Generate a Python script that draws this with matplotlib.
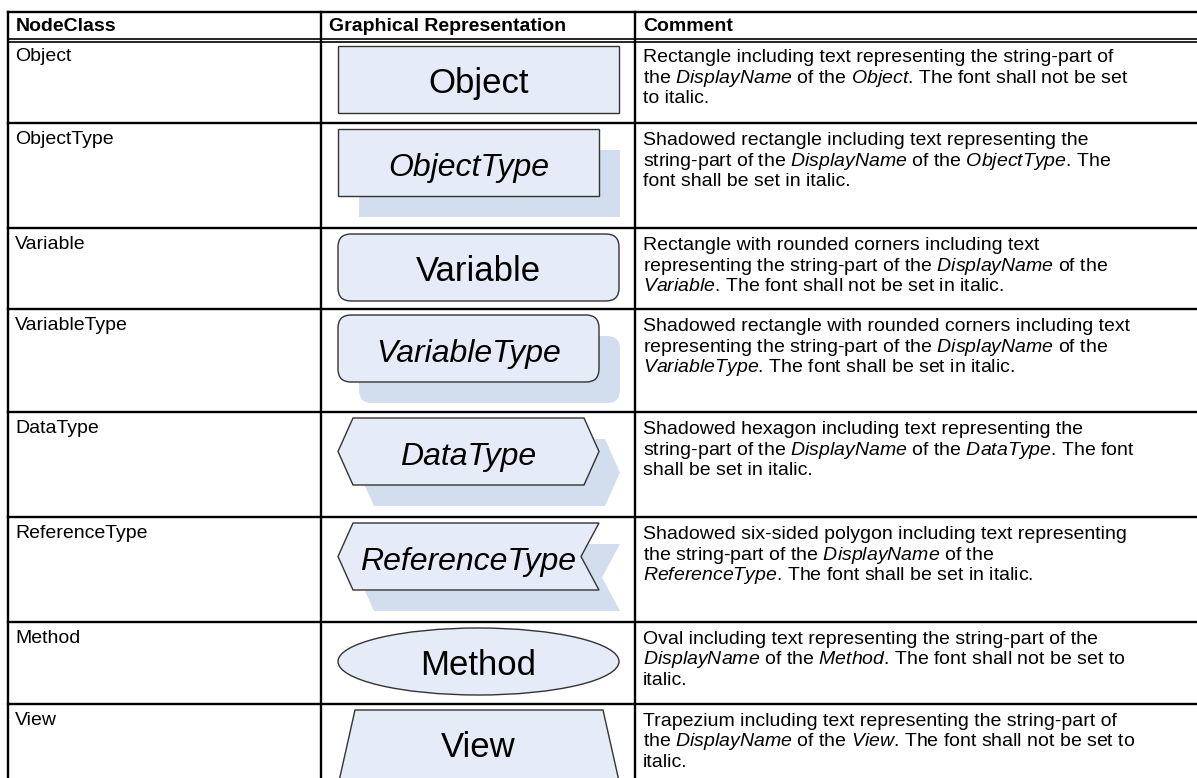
import matplotlib.pyplot as plt
from matplotlib.patches import Rectangle, FancyBboxPatch, Polygon, Ellipse

plt.rcParams['font.family'] = 'Liberation Sans'
plt.rcParams['mathtext.fontset'] = 'custom'
plt.rcParams['mathtext.rm'] = 'Liberation Sans'
plt.rcParams['mathtext.it'] = 'Liberation Sans:italic'

# table content
headers = ['NodeClass', 'Graphical Representation', 'Comment']
node_classes = ['Object', 'ObjectType', 'Variable', 'VariableType',
                'DataType', 'ReferenceType', 'Method', 'View']
shape_kinds = ['rect', 'rect', 'round', 'round',
               'hexagon', 'chevron', 'oval', 'trapezium']
shadowed = [False, True, False, True, True, True, False, False]
italic_label = [False, True, False, True, True, True, False, False]
comments = [
    ['Rectangle including text representing the string-part of',
     'the *DisplayName* of the *Object*. The font shall not be set',
     'to italic.'],
    ['Shadowed rectangle including text representing the',
     'string-part of the *DisplayName* of the *ObjectType*. The',
     'font shall be set in italic.'],
    ['Rectangle with rounded corners including text',
     'representing the string-part of the *DisplayName* of the',
     '*Variable*. The font shall not be set in italic.'],
    ['Shadowed rectangle with rounded corners including text',
     'representing the string-part of the *DisplayName* of the',
     '*VariableType*. The font shall be set in italic.'],
    ['Shadowed hexagon including text representing the',
     'string-part of the *DisplayName* of the *DataType*. The font',
     'shall be set in italic.'],
    ['Shadowed six-sided polygon including text representing',
     'the string-part of the *DisplayName* of the',
     '*ReferenceType*. The font shall be set in italic.'],
    ['Oval including text representing the string-part of the',
     '*DisplayName* of the *Method*. The font shall not be set to',
     'italic.'],
    ['Trapezium including text representing the string-part of',
     'the *DisplayName* of the *View*. The font shall not be set to',
     'italic.'],
]

# layout (pixels)
W, H = 1197, 778
col_x = [8, 321, 635]
row_y = [12, 40, 123, 228, 309, 412, 517, 622, 704, 800]
fill = '#E5ECF7'
shadow = '#D2DDEE'
edge = '#333333'
off = 21


def to_math(s):
    parts = s.split('*')
    out = ''
    for i, p in enumerate(parts):
        out += ('$\\mathit{' + p + '}$') if i % 2 else p
    return out


def shape_patch(kind, x0, y0, w, h, color, ec):
    kw = dict(facecolor=color, edgecolor=ec, lw=1.0 if ec != 'none' else 0)
    if kind == 'rect':
        return Rectangle((x0, y0), w, h, **kw)
    if kind == 'round':
        return FancyBboxPatch((x0, y0), w, h,
                              boxstyle='round,pad=0,rounding_size=13', **kw)
    if kind == 'hexagon':
        pts = [(x0, y0 + h / 2), (x0 + 15, y0), (x0 + w - 15, y0),
               (x0 + w, y0 + h / 2), (x0 + w - 15, y0 + h), (x0 + 15, y0 + h)]
        return Polygon(pts, closed=True, **kw)
    if kind == 'chevron':
        pts = [(x0, y0 + h / 2), (x0 + 15, y0), (x0 + w, y0),
               (x0 + w - 18, y0 + h / 2), (x0 + w, y0 + h), (x0 + 15, y0 + h)]
        return Polygon(pts, closed=True, **kw)
    if kind == 'oval':
        return Ellipse((x0 + w / 2, y0 + h / 2), w, h, **kw)
    if kind == 'trapezium':
        pts = [(x0 + 17, y0), (x0 + w - 16, y0), (x0 + w + 2, y0 + h),
               (x0 - 1, y0 + h)]
        return Polygon(pts, closed=True, **kw)


fig = plt.figure(figsize=(W / 100, H / 100), dpi=100)
ax = fig.add_axes([0, 0, 1, 1])
ax.set_xlim(0, W)
ax.set_ylim(H, 0)
ax.axis('off')

# grid lines
lw = 1.7
ax.plot([col_x[0], W], [row_y[0], row_y[0]], color='black', lw=lw)
ax.plot([col_x[0], W], [38.5, 38.5], color='black', lw=1.2)
ax.plot([col_x[0], W], [41.5, 41.5], color='black', lw=1.2)
for y in row_y[2:-1]:
    ax.plot([col_x[0], W], [y, y], color='black', lw=lw)
for x in col_x:
    ax.plot([x, x], [row_y[0], H + 5], color='black', lw=lw)

# header
for x, t in zip(col_x, headers):
    ax.text(x + 8, 31, t, fontsize=14, fontweight='bold', va='baseline')

# rows
for i, name in enumerate(node_classes):
    top = row_y[i + 1]
    ax.text(col_x[0] + 7, top + 21, name, fontsize=14, va='baseline')

    kind = shape_kinds[i]
    sx, sy, sh = 338, top + 6, 67
    sw = 261 if shadowed[i] else 281
    if kind == 'trapezium':
        sh = 80
    if shadowed[i]:
        ax.add_patch(shape_patch(kind, sx + off, sy + off, sw, sh, shadow, 'none'))
    ax.add_patch(shape_patch(kind, sx, sy, sw, sh, fill, edge))
    fs = 23 if italic_label[i] else 25
    ax.text(sx + sw / 2, sy + 47, name, fontsize=fs, ha='center',
            va='baseline', style='italic' if italic_label[i] else 'normal')

    for j, line in enumerate(comments[i]):
        ax.text(col_x[2] + 8, top + 22 + 20.5 * j, to_math(line),
                fontsize=14, va='baseline')

fig.savefig('out.png', dpi=100)
